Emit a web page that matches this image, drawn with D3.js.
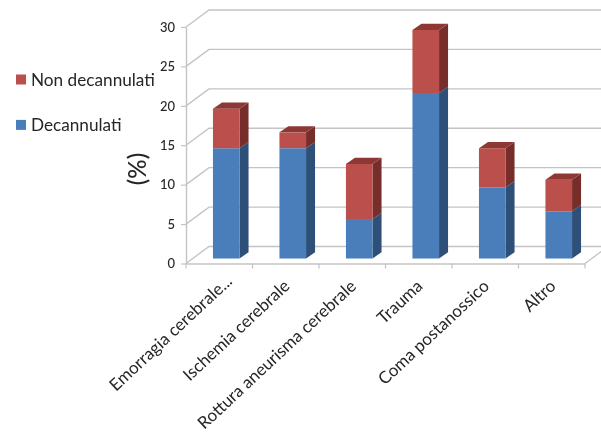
<!DOCTYPE html>
<html><head><meta charset="utf-8">
<script src="https://cdnjs.cloudflare.com/ajax/libs/d3/7.8.5/d3.min.js"></script>
<style>html,body{margin:0;padding:0;background:#fff;overflow:hidden}svg{display:block}</style>
</head><body><svg id="c" width="601" height="435"></svg>
<script>
const categories = ["Emorragia cerebrale...", "Ischemia cerebrale", "Rottura aneurisma cerebrale", "Trauma", "Coma postanossico", "Altro"];
const decannulati = [14, 14, 5, 21, 9, 6];
const nonDecannulati = [5, 2, 7, 8, 5, 4];
const yTicks = [0, 5, 10, 15, 20, 25, 30];
const seriesNames = ["Non decannulati", "Decannulati"];
const FONT = "Lato, 'Open Sans', sans-serif";
const TXT = "#262626", GRID = "#c4c4c4";
const BLUE = {f:"#4a7ebb", s:"#2e4f78", t:"#3a6391"};
const RED  = {f:"#bb4f4b", s:"#772d2c", t:"#8e3936"};
const svg = d3.select("#c");
const defs = svg.append("defs");
defs.append("filter").attr("id","soft").append("feGaussianBlur").attr("stdDeviation",0.45);
const root = svg.append("g").attr("filter","url(#soft)");
const x0 = 186, x1 = 585, yB = 263.5, yT = 27;
const wallDx = 23, wallDy = -17, offDx = 7, offDy = -5, barDx = 9, barDy = -6.2;
const x = d3.scaleBand().domain(categories).range([x0, x1]).paddingInner(0).paddingOuter(0);
const y = d3.scaleLinear().domain([0, 30]).range([yB, yT]);
const barW = 26.6;
const line = d3.line();
// walls
root.append("g").selectAll("path").data(yTicks).join("path")
  .attr("fill","none").attr("stroke",GRID).attr("stroke-width",1.4)
  .attr("d", t => line([[x0,y(t)],[x0+wallDx,y(t)+wallDy],[x1+wallDx,y(t)+wallDy]]));
root.append("path").attr("fill","none").attr("stroke",GRID).attr("stroke-width",1.4)
  .attr("d", line([[x1,yB],[x1+wallDx,yB+wallDy]]));
// axes
const yAxis = root.append("g").attr("transform",`translate(${x0},0)`)
  .call(d3.axisLeft(y).tickValues(yTicks).tickSize(5).tickSizeOuter(0).tickPadding(6));
const xAxis = root.append("g").attr("transform",`translate(0,${yB})`)
  .call(d3.axisBottom(x).tickSize(0).tickFormat(""));
xAxis.selectAll(".tick").remove();
xAxis.selectAll("g.e").data(d3.range(categories.length+1)).join("line")
  .attr("x1",i=>x0+i*x.step()).attr("x2",i=>x0+i*x.step()).attr("y1",0).attr("y2",5)
  .attr("stroke",GRID).attr("stroke-width",1.2);
root.selectAll(".domain").attr("stroke",GRID).attr("stroke-width",1.4);
yAxis.selectAll(".tick line").attr("stroke",GRID).attr("stroke-width",1.2);
yAxis.selectAll("text").attr("font-family",FONT).attr("font-size",13).attr("font-weight",500).attr("fill",TXT);
// bars
const poly = pts => line(pts)+"Z";
const bars = root.append("g").selectAll("g").data(categories).join("g");
function seg(g, l, lo, hi, c, top){
  const r = l+barW, yl = y(lo)+offDy, yh = y(hi)+offDy;
  g.append("path").attr("fill",c.s).attr("d",poly([[r,yl],[r+barDx,yl+barDy],[r+barDx,yh+barDy],[r,yh]]));
  g.append("path").attr("fill",c.f).attr("d",poly([[l,yl],[r,yl],[r,yh],[l,yh]]));
  if(top) g.append("path").attr("fill",c.t).attr("d",poly([[l,yh],[r,yh],[r+barDx,yh+barDy],[l+barDx,yh+barDy]]));
}
bars.each(function(c,i){
  const g = d3.select(this), l = x(c)+x.bandwidth()/2+offDx-barW/2;
  seg(g,l,0,decannulati[i],BLUE,false);
  seg(g,l,decannulati[i],decannulati[i]+nonDecannulati[i],RED,true);
});
// category labels
root.append("g").selectAll("text").data(categories).join("text")
  .attr("text-anchor","end").attr("font-family",FONT).attr("font-size",17).attr("fill",TXT)
  .attr("transform",(c,i)=>`translate(${x(c)+x.bandwidth()/2+(i?5:14)},${yB+(i?24:19)}) rotate(-43)`)
  .text(c=>c);
// axis title
root.append("text").attr("transform","translate(146,169) rotate(-90)")
  .attr("text-anchor","middle").attr("font-family",FONT).attr("font-size",24).attr("font-weight",500).attr("fill",TXT).text("(%)");
// legend
const legend = root.append("g").selectAll("g").data(seriesNames).join("g")
  .attr("transform",(d,i)=>`translate(16,${74.5+i*45.4})`);
legend.append("rect").attr("width",10).attr("height",10).attr("fill",(d,i)=>i?BLUE.f:RED.f);
legend.append("text").attr("x",15).attr("y",11).attr("font-family",FONT).attr("font-size",17.2).attr("fill",TXT).text(d=>d);
</script></body></html>
